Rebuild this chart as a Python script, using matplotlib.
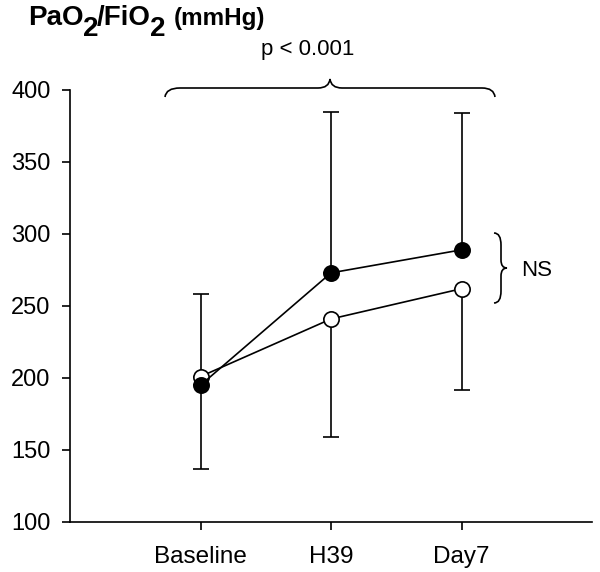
import matplotlib
matplotlib.use("Agg")
import matplotlib.pyplot as plt
from matplotlib.path import Path
from matplotlib.patches import PathPatch
import numpy as np

plt.rcParams['font.family'] = ['Liberation Sans', 'DejaVu Sans']

categories = ["Baseline", "H39", "Day7"]
filled_vals = [195, 273, 289]
filled_err_up = [63, 112, 95]
open_vals = [201, 241, 262]
open_err_down = [64, 82, 70]
yticks = [100, 150, 200, 250, 300, 350, 400]

fig = plt.figure(figsize=(6.0, 5.72), dpi=100)
ax = fig.add_axes([70/600, 1-522/572, 522/600, 432/572])
x = np.arange(1, len(categories) + 1)

# error bars (one-sided)
ax.errorbar(x, filled_vals, yerr=[np.zeros(3), filled_err_up], fmt='none',
            ecolor='black', elinewidth=1.2, capsize=6, capthick=1.2, zorder=1)
ax.errorbar(x, open_vals, yerr=[open_err_down, np.zeros(3)], fmt='none',
            ecolor='black', elinewidth=1.2, capsize=6, capthick=1.2, zorder=1)

ax.plot(x, open_vals, '-o', color='black', lw=1.2, ms=11, mfc='white',
        mec='black', mew=1.2, zorder=3)
ax.plot(x, filled_vals, '-o', color='black', lw=1.2, ms=11, mfc='black',
        mec='black', mew=1.2, zorder=4)

ax.set_xlim(0, 4)
ax.set_ylim(100, 400)
ax.set_xticks(x)
ax.set_xticklabels(categories, fontsize=17.5)
ax.set_yticks(yticks)
ax.set_yticklabels([str(v) for v in yticks], fontsize=17)
ax.spines['top'].set_visible(False)
ax.spines['right'].set_visible(False)
for s in ['left', 'bottom']:
    ax.spines[s].set_linewidth(1.2)
ax.tick_params(axis='both', direction='out', length=6, width=1.2, colors='black')
ax.tick_params(axis='x', pad=11)
ax.tick_params(axis='y', pad=8)

def px(xp, yp):
    return (xp / 600, 1 - yp / 572)

# top brace
verts = [px(165, 97), px(166, 88), px(180, 88),
         px(318, 88),
         px(329, 88), px(330, 79),
         px(331, 88), px(342, 88),
         px(482, 88),
         px(494, 88), px(495, 97)]
codes = [Path.MOVETO, Path.CURVE3, Path.CURVE3,
         Path.LINETO,
         Path.CURVE3, Path.CURVE3,
         Path.CURVE3, Path.CURVE3,
         Path.LINETO,
         Path.CURVE3, Path.CURVE3]
fig.patches.append(PathPatch(Path(verts, codes), transform=fig.transFigure,
                             fill=False, lw=1.2, color='black'))
fig.text(308/600, 1 - 50/572, "p < 0.001", ha='center', va='center', fontsize=16)

# NS brace
verts2 = [px(494, 233), px(501, 233), px(501, 245),
          px(501, 260),
          px(501, 268), px(507, 268),
          px(501, 268), px(501, 276),
          px(501, 291),
          px(501, 303), px(494, 303)]
codes2 = [Path.MOVETO, Path.CURVE3, Path.CURVE3,
          Path.LINETO,
          Path.CURVE3, Path.CURVE3,
          Path.CURVE3, Path.CURVE3,
          Path.LINETO,
          Path.CURVE3, Path.CURVE3]
fig.patches.append(PathPatch(Path(verts2, codes2), transform=fig.transFigure,
                             fill=False, lw=1.2, color='black'))
fig.text(521/600, 1 - 270/572, "NS", ha='left', va='center', fontsize=16)

# title with full-size lowered subscripts
renderer = fig.canvas.get_renderer()
title_parts = [("PaO", 0, 20, 0), ("2", 11, 20, 0), ("/FiO", 0, 20, 0),
               ("2", 11, 20, 0), ("(mmHg)", 0, 17.5, 9)]
xcur = 28
for txt, drop, fs, gap in title_parts:
    xcur += gap
    t = fig.text(xcur/600, 1 - (25 + drop)/572, txt, ha='left', va='baseline',
                 fontsize=fs, fontweight='bold')
    bb = t.get_window_extent(renderer=renderer)
    xcur += bb.width - 1

fig.savefig("out.png", dpi=100)
